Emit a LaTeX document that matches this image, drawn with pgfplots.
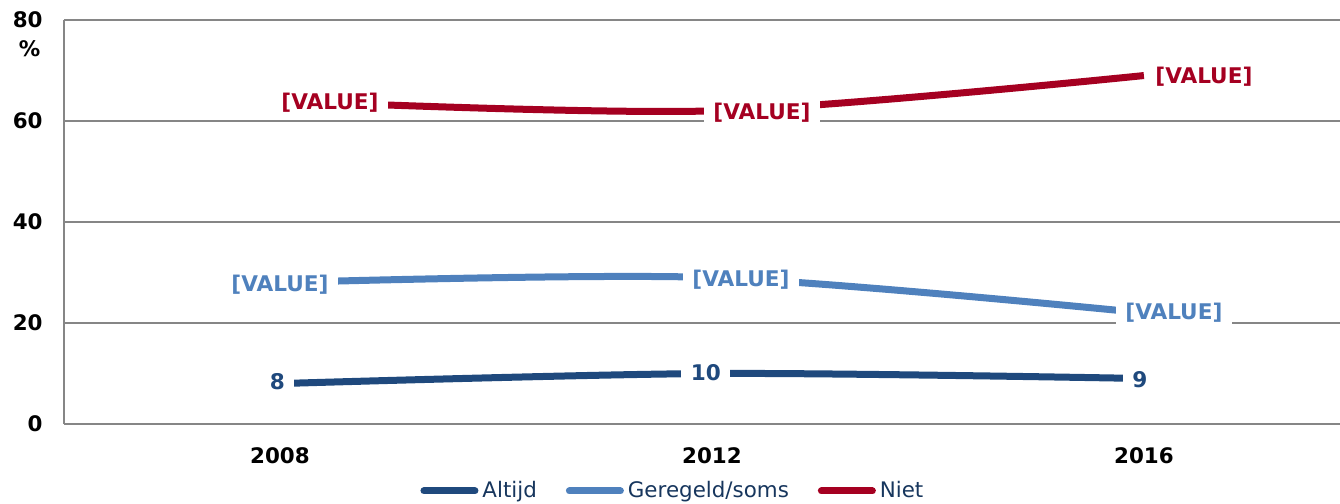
\documentclass[border=0pt]{standalone}
\usepackage{fontspec}
\setmainfont{DejaVu Sans}
\usepackage{pgfplots}
\pgfplotsset{compat=1.18}
\usetikzlibrary{calc}
\definecolor{altijd}{HTML}{1F497D}
\definecolor{geregeld}{HTML}{4F81BD}
\definecolor{niet}{HTML}{A50021}
\definecolor{gridgray}{HTML}{868686}
\definecolor{legtext}{HTML}{17365D}
\newcommand\V{[VALUE]}
\newcommand\lbl[6]{\addplot[forget plot, draw=none, no marks, point meta=explicit symbolic,
  nodes near coords, nodes near coords style={text=#1, xshift=#4pt, yshift=#5pt}]
  coordinates {(#2,#3) [#6]};}
\begin{document}
\begin{tikzpicture}
\begin{axis}[
 scale only axis, width=638pt, height=202pt,
 xmin=-0.5, xmax=2.454, ymin=0, ymax=80,
 xtick={0,1,2}, xticklabels={2008,2012,2016},
 ytick={0,20,40,60,80},
 ymajorgrids, grid style={gridgray, line width=1pt},
 axis lines=left, axis line style={-, gridgray, line width=1pt},
 major tick length=0pt,
 tick label style={font=\fontsize{10.7}{12}\selectfont\bfseries, inner sep=0pt},
 /pgf/number format/assume math mode=true,
 yticklabel style={anchor=east, xshift=-10.5pt},
 xticklabel style={anchor=north, yshift=-11.5pt},
 clip=false,
 legend style={at={(0.478,-0.1658)}, anchor=center, draw=none, fill=none, legend columns=3,
   font=\fontsize{10.7}{12}\selectfont, text=legtext,
   /tikz/every even column/.append style={column sep=12.5pt}},
 legend image code/.code={\draw[line width=3.5pt, line cap=round] (1.75pt,0pt) -- (27.25pt,0pt);},
 nodes near coords style={anchor=center, fill=white,
   inner xsep=4.75pt, inner ysep=2.5pt, font=\fontsize{10.8}{12}\selectfont\bfseries},
]
\addplot[altijd, line width=3.5pt, smooth] coordinates {(0,8) (1,10) (2,9)};
\addlegendentry{Altijd}
\addplot[geregeld, line width=3.5pt, smooth] coordinates {(0,28) (1,29) (2,22)};
\addlegendentry{Geregeld/soms}
\addplot[niet, line width=3.5pt, smooth] coordinates {(0,64) (1,62) (2,69)};
\addlegendentry{Niet}
% data labels
\lbl{altijd}{0}{8}{-1.25}{0.8}{8}
\lbl{altijd}{1}{10}{-3}{0.25}{10}
\lbl{altijd}{2}{9}{-2}{-0.7}{9}
\lbl{geregeld}{0}{28}{0}{-1}{\V}
\lbl{geregeld}{1}{29}{14.5}{-1}{\V}
\lbl{geregeld}{2}{22}{15}{0.2}{\V}
\lbl{niet}{0}{64}{25}{-1.1}{\V}
\lbl{niet}{1}{62}{25}{-0.8}{\V}
\lbl{niet}{2}{69}{30}{-0.7}{\V}
\node[font=\fontsize{10.7}{12}\selectfont\bfseries, xshift=-17.25pt, yshift=-14.5pt] at (rel axis cs:0,1) {\%};
\end{axis}
\pgfresetboundingbox
\path ($(current axis.south west)+(-32pt,-40pt)$) rectangle ($(current axis.north east)+(0pt,10pt)$);
\end{tikzpicture}
\end{document}
